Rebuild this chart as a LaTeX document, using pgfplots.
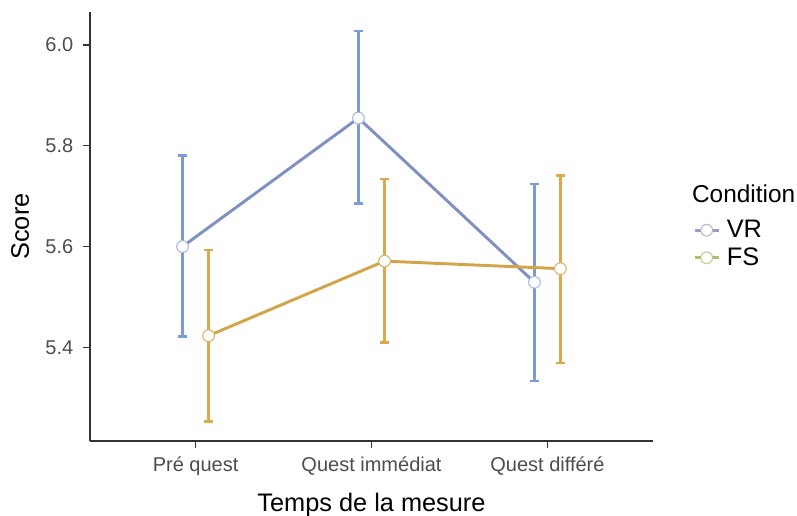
\documentclass[border=0pt]{standalone}
\usepackage{fontspec}
\setmainfont{Liberation Sans}
\usepackage{pgfplots}
\pgfplotsset{compat=1.18}
\definecolor{vrline}{HTML}{7F90C2}
\definecolor{vrerr}{HTML}{7B9BD6}
\definecolor{vredge}{HTML}{A9B9E3}
\definecolor{vrkey}{HTML}{9A9CC0}
\definecolor{fsline}{HTML}{D4A548}
\definecolor{fserr}{HTML}{DBA948}
\definecolor{fsedge}{HTML}{D8B36A}
\definecolor{fskey}{HTML}{B8BC6A}
\definecolor{axgray}{HTML}{333333}
\definecolor{tickgray}{HTML}{4D4D4D}
\begin{document}
\begin{tikzpicture}[x=1pt,y=1pt]
\path[use as bounding box] (0,0) rectangle (597.75,387);
\begin{axis}[
  at={(67.5pt,56.25pt)}, anchor=south west,
  scale only axis, width=422.25pt, height=321.75pt,
  xmin=0.4, xmax=3.6, ymin=5.214, ymax=6.0655,
  axis lines=left, axis line style={draw=axgray, line width=0.9pt, -},
  tick align=outside, major tick length=5pt,
  tick style={draw=axgray, line width=0.9pt},
  xtick={1,2,3}, xticklabels={Pré quest, Quest immédiat, Quest différé},
  ytick={5.4,5.6,5.8,6.0},
  /pgf/number format/assume math mode=true,
  ticklabel style={font=\fontsize{15}{17}\selectfont, text=tickgray},
  yticklabel style={xshift=-4pt, /pgf/number format/.cd, fixed, fixed zerofill, precision=1},
  xticklabel style={yshift=-3pt},
  xlabel={Temps de la mesure}, ylabel={Score},
  label style={font=\fontsize{19}{21}\selectfont, text=black},
  xlabel style={at={(axis description cs:0.5,-0.1655)}, anchor=base},
  ylabel style={at={(axis description cs:-0.124,0.5)}, anchor=center},
  clip=false,
  legend image code/.code={\draw[#1, mark repeat=2, mark phase=2] plot coordinates {(0pt,0pt) (9pt,0pt) (18pt,0pt)};},
  legend style={at={(axis description cs:1.071,0.459)}, anchor=west, draw=none, fill=none,
     inner sep=0pt, row sep=3pt, column sep=3.5pt, font=\fontsize{19}{21}\selectfont,
     nodes={inner sep=1.5pt}},
  legend cell align=left,
]
% error bars
\addplot[draw=none, forget plot, mark=none,
  error bars/.cd, y dir=both, y explicit,
  error bar style={draw=vrerr, line width=2pt},
  error mark options={draw=vrerr, line width=2pt, mark size=3.4pt, rotate=90}]
  coordinates {
  (0.926,5.600) += (0,0.180) -= (0,0.179)
  (1.926,5.855) += (0,0.173) -= (0,0.170)
  (2.926,5.529) += (0,0.195) -= (0,0.196)
  };
\addplot[draw=none, forget plot, mark=none,
  error bars/.cd, y dir=both, y explicit,
  error bar style={draw=fserr, line width=2pt},
  error mark options={draw=fserr, line width=2pt, mark size=3.4pt, rotate=90}]
  coordinates {
  (1.074,5.423) += (0,0.170) -= (0,0.170)
  (2.074,5.571) += (0,0.163) -= (0,0.162)
  (3.074,5.556) += (0,0.185) -= (0,0.187)
  };
% lines and points
\addplot[vrline, line width=2.2pt, mark=*, mark size=4.4pt,
  mark options={fill=white, draw=vredge, line width=0.8pt}, forget plot]
  coordinates {(0.926,5.600) (1.926,5.855) (2.926,5.529)};
\addplot[fsline, line width=2.2pt, mark=*, mark size=4.4pt,
  mark options={fill=white, draw=fsedge, line width=0.8pt}, forget plot]
  coordinates {(1.074,5.423) (2.074,5.571) (3.074,5.556)};
\addlegendimage{vrkey, line width=2.2pt, mark=*, mark size=4.4pt, mark options={fill=white, draw=vrkey!70, line width=0.8pt}}
\addlegendentry{VR}
\addlegendimage{fskey, line width=2.2pt, mark=*, mark size=4.4pt, mark options={fill=white, draw=fskey!80, line width=0.8pt}}
\addlegendentry{FS}
\node[anchor=base west, inner sep=0pt, font=\fontsize{18.3}{20}\selectfont] at (axis description cs:1.069,0.557) {Condition};
\end{axis}
\end{tikzpicture}
\end{document}
